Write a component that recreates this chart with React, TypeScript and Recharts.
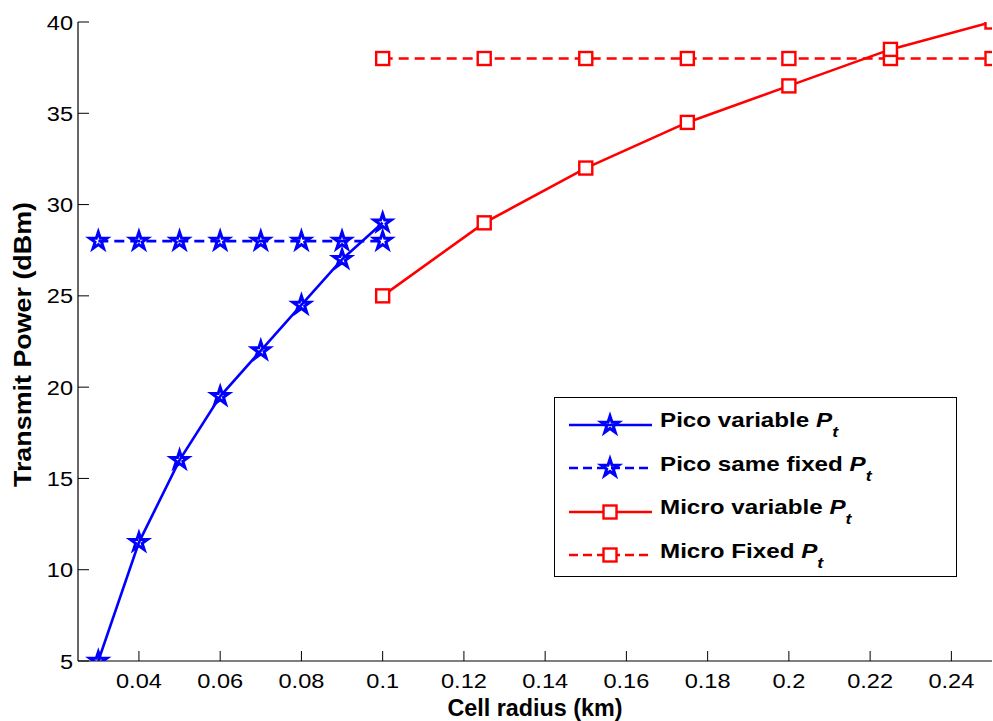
import React from 'react';
import { LineChart, Line, XAxis, YAxis, Legend } from 'recharts';

// cell radius (km) and transmit power (dBm)
const picoRadius = [0.03, 0.04, 0.05, 0.06, 0.07, 0.08, 0.09, 0.1];
const picoVariable = [5, 11.5, 16, 19.5, 22, 24.5, 27, 29];
const picoFixed = [28, 28, 28, 28, 28, 28, 28, 28];

const microRadius = [0.1, 0.125, 0.15, 0.175, 0.2, 0.225, 0.25];
const microVariable = [25, 29, 32, 34.5, 36.5, 38.5, 40];
const microFixed = [38, 38, 38, 38, 38, 38, 38];

const xTicks = [0.04, 0.06, 0.08, 0.1, 0.12, 0.14, 0.16, 0.18, 0.2, 0.22, 0.24];
const yTicks = [5, 10, 15, 20, 25, 30, 35, 40];

const BLUE = '#0000ff';
const RED = '#ff0000';
const FONT = '"Liberation Sans", Arial, Helvetica, sans-serif';
const STRETCH = 1.15;

const toRows = (xs: number[], ys: number[]) => xs.map((r, i) => ({ r, p: ys[i] }));

const picoVarRows = toRows(picoRadius, picoVariable);
const picoFixRows = toRows(picoRadius, picoFixed);
const microVarRows = toRows(microRadius, microVariable);
const microFixRows = toRows(microRadius, microFixed);

function starPath(cx: number, cy: number, R: number) {
  const r = R * 0.382;
  let d = '';
  for (let i = 0; i < 10; i++) {
    const rad = i % 2 === 0 ? R : r;
    const a = -Math.PI / 2 + (i * Math.PI) / 5;
    d += (i === 0 ? 'M' : 'L') + (cx + rad * Math.cos(a)).toFixed(2) + ',' + (cy + rad * Math.sin(a)).toFixed(2);
  }
  return d + 'Z';
}

const Star = ({ cx, cy }: { cx: number; cy: number }) => (
  <path d={starPath(cx, cy, 9)} fill="none" stroke={BLUE} strokeWidth={3} strokeLinejoin="miter" />
);

const Square = ({ cx, cy }: { cx: number; cy: number }) => (
  <rect x={cx - 6.5} y={cy - 6.5} width={13} height={13} fill="#fff" stroke={RED} strokeWidth={2.4} />
);

const starDot = (props: any) => <Star key={`s${props.index}`} cx={props.cx} cy={props.cy} />;
const squareDot = (props: any) => <Square key={`q${props.index}`} cx={props.cx} cy={props.cy} />;

const fmt = (v: number) => String(Number(v.toFixed(3)));

const BottomTick = ({ x, y, payload }: any) => (
  <g>
    <line x1={x} y1={y} x2={x} y2={y - 10} stroke="#000" />
    <text transform={`translate(${x},${y + 27}) scale(${STRETCH},1)`} textAnchor="middle" fontSize={20.5} fontFamily={FONT} fill="#000">
      {fmt(payload.value)}
    </text>
  </g>
);

const TopTick = ({ x, y }: any) => <line x1={x} y1={y} x2={x} y2={y + 10} stroke="#000" />;

const LeftTick = ({ x, y, payload }: any) => (
  <g>
    <line x1={x} y1={y} x2={x + 11} y2={y} stroke="#000" />
    <text transform={`translate(${x - 5},${y + 7.5}) scale(${STRETCH},1)`} textAnchor="end" fontSize={20.5} fontFamily={FONT} fill="#000">
      {payload.value}
    </text>
  </g>
);

const RightTick = ({ x, y }: any) => <line x1={x} y1={y} x2={x - 11} y2={y} stroke="#000" />;

const XTitle = ({ viewBox }: any) => (
  <text x={viewBox.x + viewBox.width / 2} y={viewBox.y + 55} textAnchor="middle" fontSize={23} fontWeight="bold" fontFamily={FONT} fill="#000" textLength={175} lengthAdjust="spacingAndGlyphs">
    Cell radius (km)
  </text>
);

const YTitle = ({ viewBox }: any) => {
  const cx = viewBox.x + 31;
  const cy = viewBox.y + viewBox.height / 2 + 3;
  return (
    <text transform={`translate(${cx},${cy}) rotate(-90)`} textAnchor="middle" fontSize={23} fontWeight="bold" fontFamily={FONT} fill="#000" textLength={285} lengthAdjust="spacingAndGlyphs">
      Transmit Power (dBm)
    </text>
  );
};

const legendItems = [
  { name: 'Pico variable', color: BLUE, dashed: false, marker: 'star' },
  { name: 'Pico same fixed', color: BLUE, dashed: true, marker: 'star' },
  { name: 'Micro variable', color: RED, dashed: false, marker: 'square' },
  { name: 'Micro Fixed', color: RED, dashed: true, marker: 'square' },
];

const LegendBox = () => (
  <div
    style={{
      width: 403,
      height: 180,
      border: '1px solid #000',
      background: '#fff',
      boxSizing: 'border-box',
      paddingTop: 5,
      fontFamily: FONT,
    }}
  >
    {legendItems.map((it) => (
      <div key={it.name} style={{ display: 'flex', alignItems: 'center', height: 43.5, position: 'relative' }}>
        <svg width={105} height={30} style={{ flex: 'none' }}>
          <line x1={14} y1={15} x2={97} y2={15} stroke={it.color} strokeWidth={2.6} strokeDasharray={it.dashed ? '9 5' : undefined} />
          {it.marker === 'star' ? <Star cx={55} cy={15} /> : <Square cx={55} cy={15} />}
        </svg>
        <span
          style={{
            display: 'inline-block',
            transform: `scaleX(1.18)`,
            transformOrigin: 'left center',
            fontSize: 20.5,
            fontWeight: 'bold',
            whiteSpace: 'nowrap',
            color: '#000',
            marginTop: -6,
          }}
        >
          {it.name} <i>P</i>
          <sub style={{ fontStyle: 'italic', fontSize: 15, position: 'relative', top: 5 }}>t</sub>
        </span>
      </div>
    ))}
  </div>
);

export default function App() {
  return (
    <div style={{ position: 'absolute', left: 0, top: 0, width: 993, height: 721, background: '#fff' }}>
      <LineChart width={993} height={721} margin={{ top: 22, right: 1, bottom: 0, left: 0 }}>
        <XAxis
          xAxisId="bottom"
          dataKey="r"
          type="number"
          domain={[0.025, 0.25]}
          allowDataOverflow
          ticks={xTicks}
          interval={0}
          height={60}
          tickSize={0}
          tickMargin={0}
          tickLine={false}
          axisLine={{ stroke: '#000', strokeWidth: 1.2 }}
          tick={<BottomTick />}
          label={{ content: <XTitle /> }}
        />
        <XAxis
          xAxisId="top"
          orientation="top"
          dataKey="r"
          type="number"
          domain={[0.025, 0.25]}
          allowDataOverflow
          ticks={xTicks}
          interval={0}
          height={0}
          tickSize={0}
          tickMargin={0}
          tickLine={false}
          axisLine={{ stroke: '#000', strokeWidth: 1.2 }}
          tick={<TopTick />}
        />
        <YAxis
          yAxisId="left"
          type="number"
          domain={[5, 40]}
          allowDataOverflow
          ticks={yTicks}
          interval={0}
          width={78}
          tickSize={0}
          tickMargin={0}
          tickLine={false}
          axisLine={{ stroke: '#000', strokeWidth: 1.2 }}
          tick={<LeftTick />}
          label={{ content: <YTitle /> }}
        />
        <YAxis
          yAxisId="right"
          orientation="right"
          type="number"
          domain={[5, 40]}
          allowDataOverflow
          ticks={yTicks}
          interval={0}
          width={0}
          tickSize={0}
          tickMargin={0}
          tickLine={false}
          axisLine={{ stroke: '#000', strokeWidth: 1.2 }}
          tick={<RightTick />}
        />
        <Line xAxisId="bottom" yAxisId="left" data={picoFixRows} dataKey="p" name="Pico same fixed" stroke={BLUE} strokeWidth={2.6} strokeDasharray="10 6" dot={starDot} isAnimationActive={false} />
        <Line xAxisId="bottom" yAxisId="left" data={picoVarRows} dataKey="p" name="Pico variable" stroke={BLUE} strokeWidth={2.6} dot={starDot} isAnimationActive={false} />
        <Line xAxisId="bottom" yAxisId="left" data={microFixRows} dataKey="p" name="Micro Fixed" stroke={RED} strokeWidth={2.6} strokeDasharray="10 6" dot={squareDot} isAnimationActive={false} />
        <Line xAxisId="bottom" yAxisId="left" data={microVarRows} dataKey="p" name="Micro variable" stroke={RED} strokeWidth={2.6} dot={squareDot} isAnimationActive={false} />
        <Legend
          layout="horizontal"
          verticalAlign="middle"
          align="center"
          content={<LegendBox />}
          wrapperStyle={{ position: 'absolute', left: 554, top: 397, width: 403, height: 180 }}
        />
      </LineChart>
    </div>
  );
}
